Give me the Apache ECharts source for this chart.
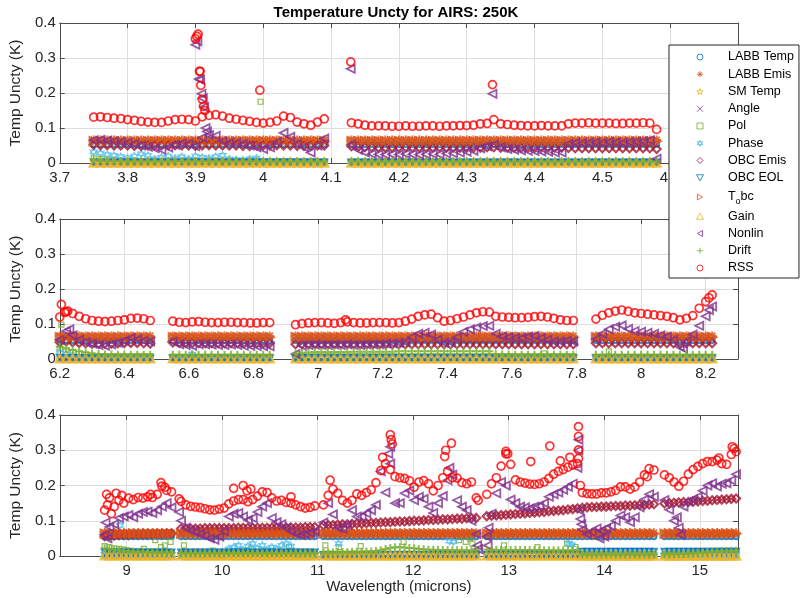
<!DOCTYPE html>
<html>
<head>
<meta charset="utf-8">
<title>Temperature Uncty for AIRS: 250K</title>
<script src="https://cdn.jsdelivr.net/npm/echarts@6/dist/echarts.min.js"></script>
<style>
  html, body { margin: 0; padding: 0; background: #fff; }
  #chart { width: 801px; height: 598px; }
</style>
</head>
<body>
<div id="chart"></div>
<script>
// channel wavelengths (microns), one row per band segment
const topWl = [
  3.75, 3.76, 3.77, 3.78, 3.79, 3.80, 3.81, 3.82, 3.83, 3.84, 3.85, 3.86, 3.87, 3.88, 3.89, 3.90, 3.91, 3.92, 3.93, 3.94,
  3.95, 3.96, 3.97, 3.98, 3.99, 4.00, 4.01, 4.02, 4.03, 4.04, 4.05, 4.06, 4.07, 4.08, 4.09,
  4.13, 4.14, 4.15, 4.16, 4.17, 4.18, 4.19, 4.20, 4.21, 4.22, 4.23, 4.24, 4.25, 4.26, 4.27, 4.28, 4.29, 4.30, 4.31, 4.32,
  4.33, 4.34, 4.35, 4.36, 4.37, 4.38, 4.39, 4.40, 4.41, 4.42, 4.43, 4.44, 4.45, 4.46, 4.47, 4.48, 4.49, 4.50, 4.51, 4.52,
  4.53, 4.54, 4.55, 4.56, 4.57, 4.58,
];
const midWl = [
  6.20, 6.22, 6.24, 6.26, 6.28, 6.30, 6.32, 6.34, 6.36, 6.38, 6.40, 6.42, 6.44, 6.46, 6.48,
  6.55, 6.57, 6.59, 6.61, 6.63, 6.65, 6.67, 6.69, 6.71, 6.73, 6.75, 6.77, 6.79, 6.81, 6.83, 6.85,
  6.93, 6.95, 6.97, 6.99, 7.01, 7.03, 7.05, 7.07, 7.09, 7.11, 7.13, 7.15, 7.17, 7.19, 7.21, 7.23, 7.25, 7.27, 7.29, 7.31,
  7.33, 7.35, 7.37, 7.39, 7.41, 7.43, 7.45, 7.47, 7.49, 7.51, 7.53, 7.55, 7.57, 7.59, 7.61, 7.63, 7.65, 7.67, 7.69, 7.71,
  7.73, 7.75, 7.77, 7.79,
  7.86, 7.88, 7.90, 7.92, 7.94, 7.96, 7.98, 8.00, 8.02, 8.04, 8.06, 8.08, 8.10, 8.12, 8.14, 8.16, 8.18, 8.20, 8.22,
];
const botWl = [
  8.77, 8.82, 8.87, 8.92, 8.97, 9.02, 9.07, 9.12, 9.17, 9.22, 9.27, 9.32, 9.37, 9.42, 9.47,
  9.57, 9.62, 9.67, 9.72, 9.77, 9.82, 9.87, 9.92, 9.97, 10.02, 10.07, 10.12, 10.17, 10.22, 10.27,
  10.32, 10.37, 10.42, 10.47, 10.52, 10.57, 10.62, 10.67, 10.72, 10.77, 10.82, 10.87, 10.92, 10.97,
  11.06, 11.11, 11.16, 11.21, 11.26, 11.31, 11.36, 11.41, 11.46, 11.51, 11.56, 11.61, 11.66, 11.71, 11.76, 11.81,
  11.86, 11.91, 11.96, 12.01, 12.06, 12.11, 12.16, 12.21, 12.26, 12.31, 12.36, 12.41, 12.46, 12.51, 12.56, 12.61, 12.66,
  12.77, 12.82, 12.87, 12.92, 12.97, 13.02, 13.07, 13.12, 13.17, 13.22, 13.27, 13.32, 13.37, 13.42, 13.47, 13.52,
  13.57, 13.62, 13.67, 13.72,
  13.77, 13.82, 13.87, 13.92, 13.97, 14.02, 14.07, 14.12, 14.17, 14.22, 14.27, 14.32, 14.37, 14.42, 14.47, 14.52,
  14.63, 14.68, 14.73, 14.78, 14.83, 14.88, 14.93, 14.98, 15.03, 15.08, 15.13, 15.18, 15.23, 15.28, 15.33, 15.38,
];

// ---- values in mK, same order as the wavelength lists ----

// top panel
const labbTempTop = [
  53, 53, 53, 53, 53, 53, 53, 53, 53, 53, 53, 53, 53, 53, 53, 53, 53, 53, 53, 53,
  53, 53, 53, 53, 53, 53, 53, 53, 53, 53, 53, 53, 53, 53, 53, 53, 53, 53, 53, 53,
  53, 53, 53, 53, 53, 53, 53, 53, 53, 53, 53, 53, 53, 53, 53, 53, 53, 53, 53, 53,
  53, 53, 53, 53, 53, 53, 53, 53, 53, 53, 53, 53, 53, 53, 53, 53, 53, 53, 53, 53,
  53,
];
const labbEmisTop = [
  66, 66, 66, 66, 66, 66, 66, 66, 66, 66, 66, 66, 66, 66, 66, 66, 66, 66, 66, 66,
  66, 66, 66, 66, 66, 66, 66, 66, 66, 66, 66, 66, 66, 66, 66, 66, 66, 66, 66, 66,
  66, 66, 66, 66, 66, 66, 66, 66, 66, 66, 66, 66, 66, 66, 66, 66, 66, 66, 66, 66,
  66, 66, 66, 66, 66, 66, 66, 66, 66, 66, 66, 66, 66, 66, 66, 66, 66, 66, 66, 66,
  66,
];
const smTempTop = [
  1, 1, 1, 1, 1, 1, 1, 1, 1, 1, 1, 1, 1, 1, 1, 1, 1, 1, 1, 1,
  1, 1, 1, 1, 1, 1, 1, 1, 1, 1, 1, 1, 1, 1, 1, 1, 1, 1, 1, 1,
  1, 1, 1, 1, 1, 1, 1, 1, 1, 1, 1, 1, 1, 1, 1, 1, 1, 1, 1, 1,
  1, 1, 1, 1, 1, 1, 1, 1, 1, 1, 1, 1, 1, 1, 1, 1, 1, 1, 1, 1,
  1,
];
const angleTop = smTempTop.slice();
const polTop = [
  15, 12, 10, 8, 6, 6, 5, 5, 5, 5, 5, 5, 5, 5, 5, 5, 5, 5, 5, 5,
  5, 5, 5, 5, 5, 5, 5, 5, 5, 5, 5, 5, 5, 5, 5,
  3, 3, 3, 3, 3, 3, 3, 3, 3, 3, 3, 3, 3, 3, 3, 3, 3, 3, 3, 3,
  3, 3, 3, 3, 3, 3, 3, 3, 3, 3, 3, 3, 3, 3, 3, 3, 3, 3, 3, 3,
  3, 3, 3, 3, 3, 3,
];
const phaseTop = [
  32, 28, 24, 22, 18, 15, 20, 26, 22, 12, 16, 20, 14, 18, 12, 20, 16, 14, 18, 22,
  12, 10, 8, 12, 14, 6, 5, 4, 4, 3, 3, 3, 3, 3, 3,
  3, 3, 3, 3, 5, 3, 3, 3, 3, 3, 3, 3, 3, 3, 3, 3, 3, 3, 3, 3,
  3, 3, 3, 3, 3, 3, 3, 3, 3, 3, 3, 3, 5, 3, 3, 3, 3, 3, 3, 3,
  3, 3, 3, 3, 3, 3,
];
const obcEmisTop = [
  52, 51, 51, 50, 50, 50, 49, 49, 50, 50, 50, 50, 51, 50, 50, 49, 50, 51, 50, 50,
  50, 50, 49, 49, 50, 50, 50, 51, 50, 50, 49, 49, 49, 50, 50,
  48, 46, 45, 45, 44, 44, 44, 44, 45, 44, 44, 44, 44, 45, 44, 44, 44, 44, 44, 44,
  45, 45, 44, 44, 44, 44, 44, 44, 44, 44, 44, 44, 43, 42, 42, 42, 42, 42, 42, 42,
  42, 42, 42, 42, 42, 40,
];
const obcEolTop = [
  2, 2, 2, 2, 2, 2, 2, 2, 2, 2, 2, 2, 2, 2, 2, 2, 2, 2, 2, 2,
  2, 2, 2, 2, 2, 2, 2, 2, 2, 2, 2, 2, 2, 2, 2, 2, 2, 2, 2, 2,
  2, 2, 2, 2, 2, 2, 2, 2, 2, 2, 2, 2, 2, 2, 2, 2, 2, 2, 2, 2,
  2, 2, 2, 2, 2, 2, 2, 2, 2, 2, 2, 2, 2, 2, 2, 2, 2, 2, 2, 2,
  2,
];
const tobcTop = [
  62, 62, 62, 62, 62, 62, 62, 62, 62, 62, 62, 62, 62, 62, 62, 62, 62, 62, 62, 62,
  62, 62, 62, 62, 62, 62, 62, 62, 62, 62, 62, 62, 62, 62, 62, 62, 62, 62, 62, 62,
  62, 62, 62, 62, 62, 62, 62, 62, 62, 62, 62, 62, 62, 62, 62, 62, 62, 62, 62, 62,
  62, 62, 62, 62, 62, 62, 62, 62, 62, 62, 62, 62, 62, 62, 62, 62, 62, 62, 62, 62,
  62,
];
const gainTop = smTempTop.slice();
const nonlinTop = [
  65, 66, 64, 62, 60, 58, 55, 50, 46, 42, 38, 44, 52, 56, 55, 48, 72, 80, 78, 62,
  58, 57, 54, 50, 45, 40, 45, 60, 86, 75, 55, 45, 30, 50, 70,
  52, 38, 30, 26, 25, 24, 25, 24, 26, 25, 24, 25, 26, 25, 27, 28, 30, 32, 35, 42,
  48, 52, 45, 40, 38, 36, 35, 34, 33, 32, 30, 30, 55, 58, 57, 58, 59, 58, 60, 59,
  58, 60, 61, 62, 65, 12,
];
const driftTop = [
  9, 8, 7, 6, 6, 5, 5, 5, 5, 5, 5, 5, 5, 5, 5, 5, 5, 5, 5, 5,
  5, 5, 5, 5, 5, 4, 4, 4, 4, 4, 4, 4, 4, 4, 4,
  4, 4, 4, 4, 4, 4, 4, 4, 4, 4, 4, 4, 4, 4, 4, 4, 4, 4, 4, 4,
  4, 4, 4, 4, 4, 4, 4, 4, 4, 4, 4, 4, 4, 4, 4, 4, 4, 4, 4, 4,
  4, 4, 4, 4, 4, 4,
];
const rssTop = [
  131, 132, 130, 128, 127, 124, 122, 119, 117, 116, 116, 120, 124, 125, 124, 120, 132, 136, 138, 134,
  128, 125, 122, 119, 116, 114, 116, 120, 134, 130, 117, 112, 108, 117, 126,
  115, 112, 108, 106, 106, 106, 105, 105, 106, 105, 105, 106, 106, 105, 106, 106, 107, 107, 108, 112,
  113, 124, 112, 110, 108, 107, 106, 106, 107, 106, 106, 106, 112, 114, 114, 115, 114, 114, 114, 113,
  113, 114, 114, 115, 114, 96,
];
// isolated points off the bands: [wavelength, mK]
const rssTopOut = [
  [3.900, 355], [3.902, 362], [3.904, 368], [3.906, 262], [3.907, 262], [3.908, 222],
  [3.910, 182], [3.912, 162], [3.914, 150], [3.995, 208], [4.129, 289], [4.338, 224],
];
const nonlinTopOut = [
  [3.900, 338], [3.903, 348], [3.905, 240], [3.907, 238], [3.909, 198], [3.911, 185],
  [3.913, 160], [3.915, 100], [3.917, 90], [4.129, 269], [4.338, 198],
];
const polTopOut = [[3.996, 175]];

// middle panel
const labbTempMid = [
  53, 53, 53, 53, 53, 53, 53, 53, 53, 53, 53, 53, 53, 53, 53, 53, 53, 53, 53, 53,
  53, 53, 53, 53, 53, 53, 53, 53, 53, 53, 53, 53, 53, 53, 53, 53, 53, 53, 53, 53,
  53, 53, 53, 53, 53, 53, 53, 53, 53, 53, 53, 53, 53, 53, 53, 53, 53, 53, 53, 53,
  53, 53, 53, 53, 53, 53, 53, 53, 53, 53, 53, 53, 53, 53, 53, 53, 53, 53, 53, 53,
  53, 53, 53, 53, 53, 53, 53, 53, 53, 53, 53, 53, 53, 53,
];
const labbEmisMid = [
  66, 66, 66, 66, 66, 66, 66, 66, 66, 66, 66, 66, 66, 66, 66, 66, 66, 66, 66, 66,
  66, 66, 66, 66, 66, 66, 66, 66, 66, 66, 66, 66, 66, 66, 66, 66, 66, 66, 66, 66,
  66, 66, 66, 66, 66, 66, 66, 66, 66, 66, 66, 66, 66, 66, 66, 66, 66, 66, 66, 66,
  66, 66, 66, 66, 66, 66, 66, 66, 66, 66, 66, 66, 66, 66, 66, 66, 66, 66, 66, 66,
  66, 66, 66, 66, 66, 66, 66, 66, 66, 66, 66, 66, 66, 66,
];
const smTempMid = [
  1, 1, 1, 1, 1, 1, 1, 1, 1, 1, 1, 1, 1, 1, 1, 1, 1, 1, 1, 1,
  1, 1, 1, 1, 1, 1, 1, 1, 1, 1, 1, 1, 1, 1, 1, 1, 1, 1, 1, 1,
  1, 1, 1, 1, 1, 1, 1, 1, 1, 1, 1, 1, 1, 1, 1, 1, 1, 1, 1, 1,
  1, 1, 1, 1, 1, 1, 1, 1, 1, 1, 1, 1, 1, 1, 1, 1, 1, 1, 1, 1,
  1, 1, 1, 1, 1, 1, 1, 1, 1, 1, 1, 1, 1, 1,
];
const angleMid = smTempMid.slice();
const polMid = [
  30, 25, 20, 15, 12, 10, 8, 8, 8, 8, 8, 8, 8, 8, 8,
  6, 6, 6, 6, 6, 6, 6, 6, 6, 6, 6, 6, 6, 6, 6, 6,
  8, 8, 8, 8, 8, 8, 8, 8, 8, 8, 8, 8, 8, 8, 8, 8, 8, 8, 8, 8,
  8, 8, 8, 8, 8, 8, 8, 8, 8, 8, 8, 8, 8, 8, 8, 8, 8, 8, 8, 8,
  8, 8, 8, 8,
  6, 6, 6, 6, 6, 6, 6, 6, 6, 6, 6, 6, 6, 6, 6, 6, 6, 6, 6,
];
const phaseMid = [
  20, 15, 10, 6, 4, 3, 3, 3, 3, 3, 3, 3, 3, 3, 3,
  3, 3, 3, 14, 3, 3, 3, 3, 3, 3, 3, 3, 3, 3, 3, 3,
  3, 3, 3, 3, 3, 3, 3, 3, 3, 3, 3, 3, 3, 3, 3, 3, 3, 3, 3, 3,
  3, 3, 3, 3, 3, 3, 3, 3, 3, 3, 3, 3, 3, 3, 3, 3, 3, 3, 3, 3,
  3, 3, 3, 3,
  3, 3, 3, 3, 3, 3, 3, 3, 3, 3, 3, 3, 3, 3, 3, 3, 3, 3, 3,
];
const obcEmisMid = [
  48, 50, 48, 46, 45, 44, 43, 44, 44, 45, 46, 46, 46, 45, 44,
  47, 46, 46, 45, 45, 45, 45, 45, 45, 45, 45, 45, 45, 45, 45, 45,
  42, 42, 42, 42, 42, 42, 42, 42, 42, 42, 42, 42, 42, 42, 42, 42, 42, 42, 42, 42,
  42, 42, 42, 42, 42, 42, 42, 42, 42, 42, 42, 42, 42, 42, 42, 42, 42, 42, 42, 42,
  42, 42, 42, 42,
  45, 45, 45, 45, 45, 45, 45, 45, 45, 45, 45, 45, 45, 45, 45, 45, 45, 45, 45,
];
const obcEolMid = [
  3, 3, 3, 3, 3, 3, 3, 3, 3, 3, 3, 3, 3, 3, 3, 3, 3, 3, 3, 3,
  3, 3, 3, 3, 3, 3, 3, 3, 3, 3, 3, 3, 3, 3, 3, 3, 3, 3, 3, 3,
  3, 3, 3, 3, 3, 3, 3, 3, 3, 3, 3, 3, 3, 3, 3, 3, 3, 3, 3, 3,
  3, 3, 3, 3, 3, 3, 3, 3, 3, 3, 3, 3, 3, 3, 3, 3, 3, 3, 3, 3,
  3, 3, 3, 3, 3, 3, 3, 3, 3, 3, 3, 3, 3, 3,
];
const tobcMid = [
  62, 62, 62, 62, 62, 62, 62, 62, 62, 62, 62, 62, 62, 62, 62, 62, 62, 62, 62, 62,
  62, 62, 62, 62, 62, 62, 62, 62, 62, 62, 62, 62, 62, 62, 62, 62, 62, 62, 62, 62,
  62, 62, 62, 62, 62, 62, 62, 62, 62, 62, 62, 62, 62, 62, 62, 62, 62, 62, 62, 62,
  62, 62, 62, 62, 62, 62, 62, 62, 62, 62, 62, 62, 62, 62, 62, 62, 62, 62, 62, 62,
  62, 62, 62, 62, 62, 62, 62, 62, 62, 62, 62, 62, 62, 62,
];
const gainMid = [
  2, 2, 2, 2, 2, 2, 2, 2, 2, 2, 2, 2, 2, 2, 2, 2, 2, 2, 2, 2,
  2, 2, 2, 2, 2, 2, 2, 2, 2, 2, 2, 2, 2, 2, 2, 2, 2, 2, 2, 2,
  2, 2, 2, 2, 2, 2, 2, 2, 2, 2, 2, 2, 2, 2, 2, 2, 2, 2, 2, 2,
  2, 2, 2, 2, 2, 2, 2, 2, 2, 2, 2, 2, 2, 2, 2, 2, 2, 2, 2, 2,
  2, 2, 2, 2, 2, 2, 2, 2, 2, 2, 2, 2, 2, 2,
];
const nonlinMid = [
  55, 80, 68, 55, 48, 44, 40, 38, 42, 46, 52, 60, 56, 52, 50,
  50, 42, 40, 38, 42, 42, 41, 40, 40, 41, 40, 38, 38, 37, 36, 36,
  14, 38, 40, 41, 40, 40, 41, 40, 42, 40, 40, 41, 42, 42, 44, 45, 46, 48, 62, 72,
  75, 70, 55, 46, 48, 62, 78, 85, 90, 94, 95, 72, 65, 62, 60, 60, 64, 66, 60, 55,
  50, 50, 52, 50,
  57, 72, 85, 92, 96, 86, 80, 78, 75, 72, 68, 64, 55, 35, 50, 70, 95, 122, 150,
];
const driftMid = [
  35, 30, 26, 22, 19, 16, 14, 13, 13, 12, 12, 12, 12, 12, 12,
  12, 12, 12, 12, 12, 12, 12, 12, 12, 12, 12, 12, 12, 12, 12, 12,
  15, 18, 19, 20, 20, 20, 20, 20, 20, 21, 21, 21, 21, 21, 21, 21, 22, 22, 22, 22,
  22, 22, 22, 22, 22, 22, 22, 22, 22, 22, 22, 14, 13, 13, 12, 12, 12, 12, 12, 12,
  12, 12, 12, 12,
  12, 12, 12, 12, 12, 12, 12, 12, 12, 12, 12, 12, 12, 12, 12, 12, 12, 12, 12,
];
const rssMid = [
  120, 135, 130, 122, 115, 110, 108, 107, 108, 110, 112, 116, 117, 115, 110,
  108, 105, 104, 106, 107, 105, 104, 104, 105, 105, 104, 104, 103, 103, 104, 104,
  98, 101, 103, 104, 104, 103, 102, 104, 106, 104, 103, 103, 104, 104, 104, 103, 104, 108, 114, 122,
  126, 128, 118, 108, 110, 115, 120, 126, 132, 135, 134, 122, 120, 119, 118, 118, 119, 121, 122, 120,
  116, 112, 110, 110,
  114, 125, 132, 137, 140, 136, 132, 130, 128, 126, 124, 122, 118, 112, 116, 124, 145, 164, 183,
];
const rssMidOut = [[6.205, 156], [6.215, 133], [6.225, 137], [7.085, 112], [8.21, 175]];
const nonlinMidOut = [[6.23, 85], [8.13, 30], [8.21, 140]];
const polMidOut = [[6.205, 98], [7.70, 16], [7.90, 22]];

// bottom panel
const labbTempBot = [
  55, 55, 55, 55, 55, 55, 55, 55, 55, 55, 55, 55, 55, 55, 55, 55, 55, 55, 55, 55,
  55, 55, 55, 55, 55, 55, 55, 55, 55, 55, 55, 55, 55, 55, 55, 55, 55, 55, 55, 55,
  55, 55, 55, 55, 55, 55, 55, 55, 55, 55, 55, 55, 55, 55, 55, 55, 55, 55, 55, 55,
  55, 55, 55, 55, 55, 55, 55, 55, 55, 55, 55, 55, 55, 55, 55, 55, 55, 55, 55, 55,
  55, 55, 55, 55, 55, 55, 55, 55, 55, 55, 55, 55, 55, 55, 55, 55, 55, 55, 55, 55,
  55, 55, 55, 55, 55, 55, 55, 55, 55, 55, 55, 55, 55, 55, 55, 55, 55, 55, 55, 55,
  55, 55, 55, 55, 55, 55, 55, 55, 55,
];
const labbEmisBot = [
  66, 66, 66, 66, 66, 66, 66, 66, 66, 66, 66, 66, 66, 66, 66, 66, 66, 66, 66, 66,
  66, 66, 66, 66, 66, 66, 66, 66, 66, 66, 66, 66, 66, 66, 66, 66, 66, 66, 66, 66,
  66, 66, 66, 66, 66, 66, 66, 66, 66, 66, 66, 66, 66, 66, 66, 66, 66, 66, 66, 66,
  66, 66, 66, 66, 66, 66, 66, 66, 66, 66, 66, 66, 66, 66, 66, 66, 66, 66, 66, 66,
  66, 66, 66, 66, 66, 66, 66, 66, 66, 66, 66, 66, 66, 66, 66, 66, 66, 66, 66, 66,
  66, 66, 66, 66, 66, 66, 66, 66, 66, 66, 66, 66, 66, 66, 66, 66, 66, 66, 66, 66,
  66, 66, 66, 66, 66, 66, 66, 66, 66,
];
const smTempBot = [
  1, 1, 1, 1, 1, 1, 1, 1, 1, 1, 1, 1, 1, 1, 1, 1, 1, 1, 1, 1,
  1, 1, 1, 1, 1, 1, 1, 1, 1, 1, 1, 1, 1, 1, 1, 1, 1, 1, 1, 1,
  1, 1, 1, 1, 1, 1, 1, 1, 1, 1, 1, 1, 1, 1, 1, 1, 1, 1, 1, 1,
  1, 1, 1, 1, 1, 1, 1, 1, 1, 1, 1, 1, 1, 1, 1, 1, 1, 1, 1, 1,
  1, 1, 1, 1, 1, 1, 1, 1, 1, 1, 1, 1, 1, 1, 1, 1, 1, 1, 1, 1,
  1, 1, 1, 1, 1, 1, 1, 1, 1, 1, 1, 1, 1, 1, 1, 1, 1, 1, 1, 1,
  1, 1, 1, 1, 1, 1, 1, 1, 1,
];
const angleBot = smTempBot.slice();
const polBot = [
  28, 25, 22, 20, 18, 15, 12, 12, 10, 10, 10, 10, 10, 10, 10,
  6, 6, 6, 6, 6, 6, 6, 6, 6, 6, 6, 6, 6, 6, 6, 6, 6, 6, 6, 6,
  6, 6, 6, 6, 6, 6, 6, 6, 6, 6, 6, 6, 6, 6, 6, 6, 6, 6, 6, 6,
  6, 6, 6, 6, 6, 6, 6, 6, 6, 6, 6, 6, 6, 6, 6, 6, 6, 6, 6, 6,
  6, 6, 6, 6, 6, 6, 6, 6, 6, 6, 6, 6, 6, 6, 6, 6, 6, 6, 6, 6,
  6, 6,
  3, 3, 3, 3, 3, 3, 3, 3, 3, 3, 3, 3, 3, 3, 3, 3, 3, 3, 3, 3,
  3, 3, 3, 3, 3, 3, 3, 3, 3, 3, 3, 3,
];
const phaseBot = [
  4, 4, 4, 4, 4, 4, 4, 4, 4, 4, 4, 4, 4, 4, 4,
  4, 4, 4, 4, 4, 4, 4, 4, 4, 4, 20, 25, 30, 18, 28,
  35, 22, 30, 18, 25, 20, 30, 35, 28, 4, 4, 4, 4, 4,
  4, 4, 4, 4, 4, 4, 4, 4, 4, 4, 4, 4, 4, 4, 4, 4, 4, 4, 4, 4,
  4, 4, 4, 4, 4, 4, 4, 4, 4, 4, 4, 4, 4, 4, 4, 4, 4, 4, 4, 4,
  4, 4, 4, 4, 4, 4, 4, 4, 4, 4, 4, 4, 4,
  3, 3, 3, 3, 3, 3, 3, 3, 3, 3, 3, 3, 3, 3, 3, 3, 3, 3, 3, 3,
  3, 3, 3, 3, 3, 3, 3, 3, 3, 3, 3, 3,
];
const obcEmisBot = [
  56, 58, 58, 60, 60, 60, 61, 61, 62, 62, 62, 63, 63, 64, 64,
  78, 78, 78, 78, 78, 79, 79, 79, 79, 79, 79, 79, 80, 80, 80,
  80, 80, 80, 80, 80, 81, 81, 81, 81, 81, 81, 82, 82, 82,
  87, 88, 88, 89, 90, 90, 91, 92, 92, 93, 94, 94, 95, 96, 96, 97,
  98, 98, 99, 100, 100, 101, 102, 102, 103, 104, 104, 105, 106, 106, 107, 108, 108,
  113, 114, 115, 116, 117, 118, 119, 120, 121, 122, 123, 124, 125, 127, 128, 129,
  130, 132, 133, 135,
  137, 138, 139, 139, 140, 140, 141, 142, 142, 143, 143, 144, 145, 145, 146, 147,
  149, 150, 151, 152, 153, 153, 154, 155, 156, 157, 158, 159, 160, 161, 162, 163,
];
const obcEolBot = [
  10, 10, 10, 10, 10, 10, 10, 10, 10, 10, 10, 10, 10, 10, 10,
  10, 10, 10, 10, 10, 10, 10, 10, 10, 10, 10, 10, 10, 10, 10,
  10, 10, 10, 10, 10, 10, 10, 10, 10, 10, 10, 10, 10, 10,
  3, 3, 3, 3, 3, 3, 3, 3, 3, 3, 3, 3, 3, 3, 3, 3, 3, 3, 3, 3,
  3, 3, 3, 3, 3, 3, 3, 3, 3, 3, 3, 3, 3, 3, 3, 3, 3, 3, 3, 3,
  3, 3, 3, 3, 3, 3, 3, 3, 3, 3, 3, 3, 3,
  12, 12, 12, 12, 12, 12, 12, 12, 12, 12, 12, 12, 12, 12, 12, 12,
  12, 12, 12, 12, 12, 12, 12, 12, 12, 12, 12, 12, 12, 12, 12, 12,
];
const tobcBot = [
  63, 63, 63, 63, 63, 63, 63, 63, 63, 63, 63, 63, 63, 63, 63, 63, 63, 63, 63, 63,
  63, 63, 63, 63, 63, 63, 63, 63, 63, 63, 63, 63, 63, 63, 63, 63, 63, 63, 63, 63,
  63, 63, 63, 63, 63, 63, 63, 63, 63, 63, 63, 63, 63, 63, 63, 63, 63, 63, 63, 63,
  63, 63, 63, 63, 63, 63, 63, 63, 63, 63, 63, 63, 63, 63, 63, 63, 63, 63, 63, 63,
  63, 63, 63, 63, 63, 63, 63, 63, 63, 63, 63, 63, 63, 63, 63, 63, 63, 63, 63, 63,
  63, 63, 63, 63, 63, 63, 63, 63, 63, 63, 63, 63, 63, 63, 63, 63, 63, 63, 63, 63,
  63, 63, 63, 63, 63, 63, 63, 63, 63,
];
const gainBot = [
  2, 2, 2, 2, 2, 2, 2, 2, 2, 2, 2, 2, 2, 2, 2, 2, 2, 2, 2, 2,
  2, 2, 2, 2, 2, 2, 2, 2, 2, 2, 2, 2, 2, 2, 2, 2, 2, 2, 2, 2,
  2, 2, 2, 2, 2, 2, 2, 2, 2, 2, 2, 2, 2, 2, 2, 2, 2, 2, 2, 2,
  2, 2, 2, 2, 2, 2, 2, 2, 2, 2, 2, 2, 2, 2, 2, 2, 2, 2, 2, 2,
  2, 2, 2, 2, 2, 2, 2, 2, 2, 2, 2, 2, 2, 2, 2, 2, 2,
  1, 1, 1, 1, 1, 1, 1, 1, 1, 1, 1, 1, 1, 1, 1, 1, 1, 1, 1, 1,
  1, 1, 1, 1, 1, 1, 1, 1, 1, 1, 1, 1,
];
const nonlinBot = [
  60, 82, 90, 108, 112, 116, 110, 120, 125, 126, 122, 130, 140, 150, 138,
  100, 80, 72, 68, 62, 58, 50, 46, 55, 70, 112, 120, 122, 112, 102,
  108, 125, 140, 150, 108, 96, 90, 80, 70, 64, 60, 62, 66, 70,
  95, 150, 118, 80, 78, 88, 130, 112, 112, 121, 130, 145, 240, 180, 262, 150,
  150, 178, 186, 158, 168, 162, 140, 122, 150, 170, 215, 230, 158, 140, 130, 100, 62,
  55, 120, 178, 210, 200, 160, 150, 140, 138, 135, 140, 142, 150, 168, 175, 180,
  188, 196, 205, 250,
  75, 62, 68, 78, 72, 78, 86, 100, 115, 110, 96, 110, 138, 160, 175, 168,
  159, 131, 100, 80, 140, 155, 160, 168, 185, 200, 206, 197, 205, 206, 215, 232,
];
const driftBot = [
  22, 20, 18, 16, 15, 14, 13, 12, 12, 11, 11, 10, 10, 10, 10,
  8, 8, 8, 8, 8, 8, 8, 8, 8, 8, 8, 8, 8, 8, 8,
  8, 8, 8, 8, 8, 8, 8, 8, 8, 8, 8, 8, 8, 8,
  10, 10, 10, 11, 11, 11, 12, 12, 12, 13, 13, 14, 16, 20, 23, 25,
  25, 24, 23, 22, 20, 19, 18, 18, 17, 17, 17, 16, 16, 16, 16, 16, 16,
  18, 18, 18, 17, 17, 17, 17, 17, 17, 17, 17, 16, 16, 16, 16, 16,
  16, 16, 16, 16,
  4, 4, 4, 4, 4, 4, 4, 4, 4, 4, 4, 4, 4, 4, 4, 4,
  5, 5, 5, 6, 6, 7, 8, 9, 10, 11, 12, 13, 14, 14, 15, 15,
];
const rssBot = [
  130, 165, 140, 158, 150, 164, 160, 166, 164, 168, 166, 175, 198, 186, 182,
  155, 145, 141, 139, 137, 134, 131, 130, 133, 136, 148, 156, 160, 160, 154,
  160, 170, 182, 180, 165, 156, 158, 152, 150, 145, 140, 136, 138, 142,
  145, 172, 190, 178, 158, 150, 158, 176, 172, 180, 188, 208, 242, 262, 245, 225,
  222, 220, 214, 195, 210, 214, 205, 185, 200, 222, 240, 222, 221, 208, 205, 210, 165,
  175, 205, 222, 255, 290, 260, 216, 210, 207, 204, 203, 205, 210, 220, 232, 240,
  245, 252, 258, 262,
  180, 177, 176, 176, 179, 179, 182, 186, 196, 196, 190, 196, 210, 230, 248, 244,
  230, 222, 210, 198, 212, 232, 245, 254, 262, 268, 268, 272, 262, 260, 288, 296,
];
const rssBotOut = [
  [8.79, 175], [8.80, 145], [8.84, 120], [8.89, 178], [8.95, 172], [9.25, 175], [9.36, 208],
  [9.40, 195], [9.55, 162], [10.12, 192], [10.22, 200], [10.26, 185], [10.30, 190], [10.72, 168],
  [11.13, 215], [11.68, 280], [11.76, 344], [11.77, 330], [11.78, 318], [12.33, 282], [12.34, 300],
  [12.40, 320], [12.68, 158], [12.97, 297], [12.99, 290], [13.23, 268], [13.43, 312], [13.54, 270],
  [13.64, 280], [13.73, 367], [13.73, 339], [13.73, 301], [13.73, 277], [13.75, 200], [14.45, 225],
  [15.20, 278], [15.34, 310], [15.36, 305],
];
const nonlinBotOut = [
  [8.78, 95], [8.80, 50], [9.55, 125], [11.74, 290], [11.76, 310], [12.38, 250], [12.67, 30],
  [12.68, 20], [12.78, 30], [12.79, 80], [13.73, 300], [13.73, 330], [13.74, 130], [13.75, 105],
  [13.76, 90], [13.95, 50], [14.00, 55], [14.76, 110], [14.80, 60],
];
const polBotOut = [
  [9.18, 20], [9.30, 45], [9.36, 25], [9.40, 30], [9.46, 40], [9.60, 30], [9.90, 15], [10.30, 20],
  [10.70, 25], [11.08, 30], [11.22, 25], [11.45, 28], [11.90, 40], [12.48, 45], [12.55, 40],
  [12.60, 50], [12.62, 35], [12.95, 30], [13.30, 25], [13.61, 35], [13.70, 25],
];
const phaseBotOut = [[8.93, 87], [11.22, 35], [12.38, 42], [12.42, 40], [13.63, 35], [13.66, 32]];

const FONT = 'Liberation Sans, Arial, Helvetica, sans-serif';
const TEXT = '#262626';
const FRAME = '#4d4d4d';
const GRID = '#dedede';

// MATLAB style markers
const CIRCLE = 'path://M10 5A5 5 0 1 1 0 5A5 5 0 1 1 10 5Z';
const ASTER = 'path://M5 0L5 10M0 5L10 5M1.5 1.5L8.5 8.5M8.5 1.5L1.5 8.5';
const PENTA = 'path://M5 0L6.12 3.45L9.76 3.45L6.82 5.59L7.94 9.05L5 6.91L2.06 9.05L3.18 5.59L0.24 3.45L3.88 3.45Z';
const CROSS = 'path://M0 0L10 10M10 0L0 10';
const SQUARE = 'path://M0 0L10 0L10 10L0 10Z';
const HEXA = 'path://M5 0L9.33 7.5L0.67 7.5ZM5 10L0.67 2.5L9.33 2.5Z';
const DIAMOND = 'path://M5 0L10 5L5 10L0 5Z';
const TRI_DOWN = 'path://M0 0L10 0L5 8.66Z';
const TRI_RIGHT = 'path://M0 0L8.66 5L0 10Z';
const TRI_UP = 'path://M5 0L10 8.66L0 8.66Z';
const TRI_LEFT = 'path://M8.66 0L0 5L8.66 10Z';
const PLUS = 'path://M5 0L5 10M0 5L10 5';

const seriesNames = ['LABB Temp', 'LABB Emis', 'SM Temp', 'Angle', 'Pol', 'Phase', 'OBC Emis',
  'OBC EOL', 'Tobc', 'Gain', 'Nonlin', 'Drift', 'RSS'];

// size / stroke width of the markers in the plot (the legend uses thin strokes)
const look = {
  'LABB Temp': { color: '#0072BD', symbol: CIRCLE, size: 5, width: 2.2 },
  'LABB Emis': { color: '#D95319', symbol: ASTER, size: 9, width: 2 },
  'SM Temp': { color: '#EDB120', symbol: PENTA, size: 7, width: 1 },
  'Angle': { color: '#7E2F8E', symbol: CROSS, size: 6, width: 1 },
  'Pol': { color: '#77AC30', symbol: SQUARE, size: 5, width: 1.2 },
  'Phase': { color: '#4DBEEE', symbol: HEXA, size: 7, width: 1.2 },
  'OBC Emis': { color: '#A2142F', symbol: DIAMOND, size: 8, width: 2.2 },
  'OBC EOL': { color: '#0072BD', symbol: TRI_DOWN, size: 6, width: 1.8 },
  'Tobc': { color: '#D95319', symbol: TRI_RIGHT, size: 8, width: 2.2 },
  'Gain': { color: '#EDB120', symbol: TRI_UP, size: 8, width: 2.2 },
  'Nonlin': { color: '#7E2F8E', symbol: TRI_LEFT, size: 8, width: 1.8 },
  'Drift': { color: '#77AC30', symbol: PLUS, size: 8, width: 2 },
  'RSS': { color: '#FF0000', symbol: CIRCLE, size: 8, width: 1.7 },
};

const panels = [
  {
    wl: topWl,
    rows: {
      'LABB Temp': labbTempTop, 'LABB Emis': labbEmisTop, 'SM Temp': smTempTop, 'Angle': angleTop,
      'Pol': polTop, 'Phase': phaseTop, 'OBC Emis': obcEmisTop, 'OBC EOL': obcEolTop, 'Tobc': tobcTop,
      'Gain': gainTop, 'Nonlin': nonlinTop, 'Drift': driftTop, 'RSS': rssTop,
    },
    extra: { 'RSS': rssTopOut, 'Nonlin': nonlinTopOut, 'Pol': polTopOut },
    x: { min: 3.7, max: 4.7, interval: 0.1, showMin: true, showMax: true },
  },
  {
    wl: midWl,
    rows: {
      'LABB Temp': labbTempMid, 'LABB Emis': labbEmisMid, 'SM Temp': smTempMid, 'Angle': angleMid,
      'Pol': polMid, 'Phase': phaseMid, 'OBC Emis': obcEmisMid, 'OBC EOL': obcEolMid, 'Tobc': tobcMid,
      'Gain': gainMid, 'Nonlin': nonlinMid, 'Drift': driftMid, 'RSS': rssMid,
    },
    extra: { 'RSS': rssMidOut, 'Nonlin': nonlinMidOut, 'Pol': polMidOut },
    x: { min: 6.2, max: 8.3, interval: 0.2, showMin: true, showMax: false },
  },
  {
    wl: botWl,
    rows: {
      'LABB Temp': labbTempBot, 'LABB Emis': labbEmisBot, 'SM Temp': smTempBot, 'Angle': angleBot,
      'Pol': polBot, 'Phase': phaseBot, 'OBC Emis': obcEmisBot, 'OBC EOL': obcEolBot, 'Tobc': tobcBot,
      'Gain': gainBot, 'Nonlin': nonlinBot, 'Drift': driftBot, 'RSS': rssBot,
    },
    extra: { 'RSS': rssBotOut, 'Nonlin': nonlinBotOut, 'Pol': polBotOut, 'Phase': phaseBotOut },
    x: { min: 8.3, max: 15.4, splitNumber: 7, showMin: false, showMax: false },
  },
];

const gridTops = [23, 219, 415];

function hollow(color, width) {
  return { color: 'rgba(0,0,0,0)', borderColor: color, borderWidth: width };
}

const series = [];
panels.forEach((p, gi) => {
  seriesNames.forEach((name) => {
    const vals = p.rows[name];
    const pts = p.wl.map((w, k) => [w, vals[k] / 1000]);
    (p.extra[name] || []).forEach(([w, v]) => pts.push([w, v / 1000]));
    series.push({
      type: 'scatter',
      name,
      xAxisIndex: gi,
      yAxisIndex: gi,
      data: pts,
      symbol: look[name].symbol,
      symbolSize: look[name].size,
      itemStyle: hollow(look[name].color, look[name].width),
      clip: false,
      silent: true,
      emphasis: { disabled: true },
    });
  });
});

const xAxes = [];
const yAxes = [];
[false, true].forEach((mirror) => {
  panels.forEach((p, gi) => {
    xAxes.push({
      type: 'value',
      gridIndex: gi,
      position: mirror ? 'top' : 'bottom',
      min: p.x.min,
      max: p.x.max,
      interval: p.x.interval,
      splitNumber: p.x.splitNumber,
      axisLine: { show: true, onZero: false, lineStyle: { color: FRAME, width: 1 } },
      axisTick: { show: true, inside: true, length: 5, lineStyle: { color: FRAME } },
      axisLabel: mirror ? { show: false } : {
        color: TEXT, fontSize: 15, fontFamily: FONT, margin: 7,
        showMinLabel: p.x.showMin, showMaxLabel: p.x.showMax,
      },
      splitLine: { show: !mirror, lineStyle: { color: GRID, width: 1 } },
      name: (!mirror && gi === 2) ? 'Wavelength (microns)' : '',
      nameLocation: 'middle',
      nameGap: 21,
      nameTextStyle: { color: TEXT, fontSize: 15, fontFamily: FONT },
    });
    yAxes.push({
      type: 'value',
      gridIndex: gi,
      position: mirror ? 'right' : 'left',
      min: 0,
      max: 0.4,
      interval: 0.1,
      axisLine: { show: true, onZero: false, lineStyle: { color: FRAME, width: 1 } },
      axisTick: { show: true, inside: true, length: 5, lineStyle: { color: FRAME } },
      axisLabel: mirror ? { show: false } : { color: TEXT, fontSize: 15, fontFamily: FONT, margin: 4 },
      splitLine: { show: !mirror, lineStyle: { color: GRID, width: 1 } },
      name: mirror ? '' : 'Temp Uncty (K)',
      nameLocation: 'middle',
      nameGap: 24,
      nameTextStyle: { color: TEXT, fontSize: 15.5, fontFamily: FONT },
    });
  });
});

const chart = echarts.init(document.getElementById('chart'));
chart.setOption({
  animation: false,
  backgroundColor: '#fff',
  textStyle: { fontFamily: FONT },
  title: {
    text: 'Temperature Uncty for AIRS: 250K',
    left: 391,
    top: 0,
    textAlign: 'center',
    textStyle: { fontFamily: FONT, fontSize: 15, fontWeight: 'bold', color: '#000' },
  },
  grid: gridTops.map((t) => ({ left: 53, top: t, width: 685, height: t === 415 ? 141 : 140 })),
  xAxis: xAxes,
  yAxis: yAxes,
  legend: {
    orient: 'vertical',
    left: 669,
    top: 45,
    padding: [5, 5, 3, 27],
    itemWidth: 46,
    itemHeight: 6,
    itemGap: 3.25,
    selectedMode: false,
    backgroundColor: '#fff',
    borderColor: '#262626',
    borderWidth: 1,
    textStyle: {
      color: '#000',
      fontFamily: FONT,
      fontSize: 12.5,
      lineHeight: 14,
      rich: {
        t: { color: '#000', fontFamily: FONT, fontSize: 12.5, lineHeight: 14 },
        s: { color: '#000', fontFamily: FONT, fontSize: 9, lineHeight: 5, padding: [9, 0, 0, 0] },
      },
    },
    formatter: (name) => (name === 'Tobc' ? '{t|T}{s|o}{t|bc}' : name),
    data: seriesNames.map((name) => ({
      name,
      icon: look[name].symbol,
      itemStyle: hollow(look[name].color, 1),
    })),
  },
  series,
});
</script>
</body>
</html>
